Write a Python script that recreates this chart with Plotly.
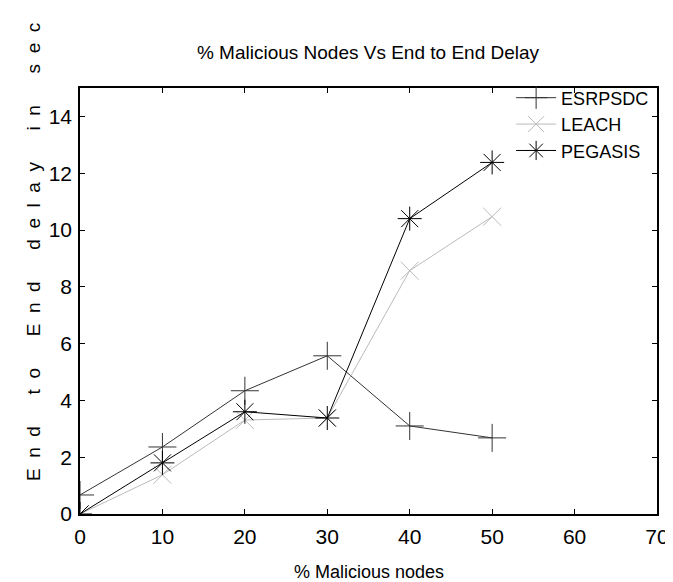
import plotly.graph_objects as go

malicious_pct = [0, 10, 20, 30, 40, 50]
esrpsdc = [0.67, 2.36, 4.34, 5.57, 3.1, 2.68]
leach = [0.0, 1.38, 3.31, 3.38, 8.57, 10.47]
pegasis = [0.0, 1.8, 3.6, 3.38, 10.4, 12.38]

x_ticks = [0, 10, 20, 30, 40, 50, 60, 70]
y_ticks = [0, 2, 4, 6, 8, 10, 12, 14]

FONT = "Liberation Sans, Arial, sans-serif"

fig = go.Figure()
fig.add_trace(go.Scatter(
    x=malicious_pct, y=esrpsdc, name="ESRPSDC", mode="lines+markers",
    line=dict(color="#333333", width=1),
    marker=dict(symbol="cross-thin-open", size=20, line=dict(color="#333333", width=1)),
))
fig.add_trace(go.Scatter(
    x=malicious_pct, y=leach, name="LEACH", mode="lines+markers",
    line=dict(color="#bbbbbb", width=1),
    marker=dict(symbol="x-thin-open", size=18, line=dict(color="#bbbbbb", width=1)),
))
fig.add_trace(go.Scatter(
    x=malicious_pct, y=pegasis, name="PEGASIS", mode="lines+markers",
    line=dict(color="#000000", width=1),
    marker=dict(symbol="asterisk-open", size=20, line=dict(color="#000000", width=1)),
))

axis_common = dict(
    showgrid=False, zeroline=False, showline=True, linecolor="black", linewidth=1.5,
    mirror="ticks", ticks="inside", ticklen=5, tickcolor="black", tickwidth=1,
    tickfont=dict(family=FONT, size=21, color="black"),
)
fig.update_xaxes(range=[0, 70], tickvals=x_ticks, ticklabelstandoff=3, **axis_common)
fig.update_yaxes(range=[0, 15], tickvals=y_ticks, ticklabelstandoff=2, **axis_common)

ylabel_words = ["End", "to", "End", "delay", "in", "sec"]
ylabel = ("\u00a0" * 6).join(("\u00a0" * 2).join(w) for w in ylabel_words)

fig.update_layout(
    width=673, height=582,
    margin=dict(l=72, r=24, t=80, b=76),
    paper_bgcolor="white", plot_bgcolor="white",
    showlegend=True,
    legend=dict(
        x=0.995, y=1.02, xanchor="right", yanchor="top",
        bgcolor="rgba(0,0,0,0)", borderwidth=0,
        font=dict(family=FONT, size=18, color="black"),
        itemwidth=40, tracegroupgap=0,
    ),
    title=dict(
        text="% Malicious Nodes Vs End to End Delay",
        x=(360 / 673), xanchor="center", y=1 - 44 / 582, yanchor="middle",
        font=dict(family=FONT, size=19, color="black"),
    ),
    annotations=[
        dict(text="% Malicious nodes", xref="paper", yref="paper",
             x=0.5, y=(506 - 564) / 426, xanchor="center", yanchor="middle", showarrow=False,
             font=dict(family=FONT, size=18, color="black")),
        dict(text=ylabel, xref="paper", yref="paper",
             x=(25 - 72) / 577, y=(506 - 244) / 426, xanchor="center", yanchor="middle",
             textangle=-90, showarrow=False,
             font=dict(family=FONT, size=19, color="black")),
    ],
)

fig.write_html("out.html")
